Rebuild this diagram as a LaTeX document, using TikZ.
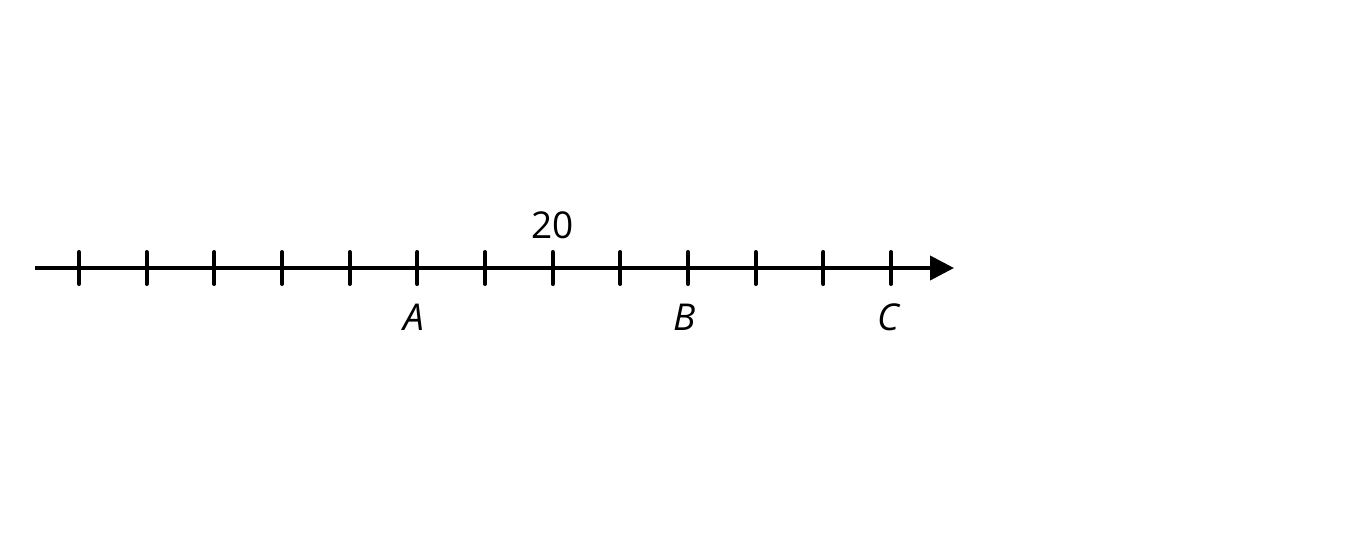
\documentclass[tikz,border=0pt]{standalone}
\usepackage{fontspec}
\setmainfont{Open Sans}
\usetikzlibrary{arrows.meta}
\begin{document}
\begin{tikzpicture}[x=1pt,y=-1pt,
  axis/.style={line width=4pt,-{Triangle[length=24pt,width=24pt]}},
  tickmark/.style={line width=4pt,line cap=round},
  lbl/.style={font=\fontsize{37}{40}\selectfont,inner sep=0pt}]
\useasboundingbox (0,0) rectangle (1372,539);
\coordinate (s) at (35,268);
\coordinate (e) at (954,268);
\draw[axis] (s) -- (e);
\foreach \i in {0,...,12}{
  \pgfmathsetmacro{\xx}{79+\i*67.67}
  \coordinate (t\i) at (\xx,268);
  \draw[tickmark] ([yshift=-16pt]t\i) -- ([yshift=16pt]t\i);
}
\node[lbl,anchor=base] (n20) at ([yshift=30pt]t7) {20};
\node[lbl,anchor=base] (A) at ([xshift=-3pt,yshift=-62pt]t5) {\itshape A};
\node[lbl,anchor=base] (B) at ([xshift=-3pt,yshift=-62pt]t9) {\itshape B};
\node[lbl,anchor=base] (C) at ([xshift=-3pt,yshift=-62pt]t12) {\itshape C};
\end{tikzpicture}
\end{document}
